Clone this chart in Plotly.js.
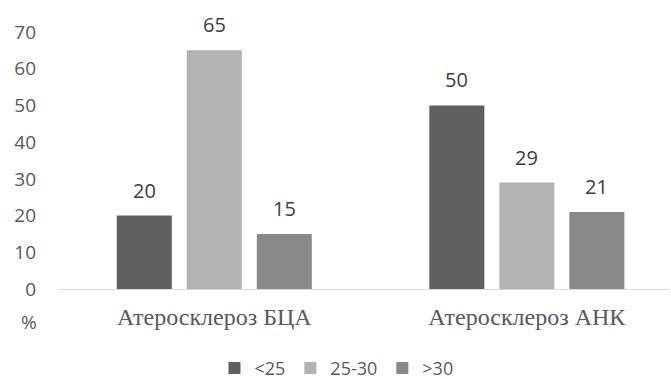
<!DOCTYPE html>
<html>
<head>
<meta charset="utf-8">
<script src="https://cdn.plot.ly/plotly-3.0.1.min.js"></script>
<style>html,body{margin:0;padding:0;background:#fff;}#chart{width:671px;height:379px;}</style>
</head>
<body>
<div id="chart"></div>
<script>
const categories = ["Атеросклероз БЦА", "Атеросклероз АНК"];
const seriesNames = ["<25", "25-30", ">30"];
const seriesLt25 = [20, 50];
const series25to30 = [65, 29];
const seriesGt30 = [15, 21];
const seriesValues = [seriesLt25, series25to30, seriesGt30];
const seriesColors = ["#5f5f5f", "#b3b3b3", "#898989"];
const yTicks = [0, 10, 20, 30, 40, 50, 60, 70];

const traces = seriesValues.map((vals, i) => ({
  type: "bar",
  name: seriesNames[i],
  x: categories,
  y: vals,
  marker: {color: seriesColors[i]},
  hoverinfo: "none"
}));

const slotPx = 70;
const annotations = [];
seriesValues.forEach((vals, i) => {
  vals.forEach((v, j) => {
    annotations.push({
      x: categories[j], y: v, xref: "x", yref: "y",
      text: String(v), showarrow: false,
      yanchor: "bottom", yshift: 10, xshift: (i - 1) * slotPx,
      font: {family: "Open Sans", size: 20, color: "#404040"}
    });
  });
});
annotations.push({
  xref: "paper", yref: "paper", x: -0.047, y: -0.128, xanchor: "center", yanchor: "middle",
  text: "%", showarrow: false,
  font: {family: "Open Sans", size: 19, color: "#595959"}
});

const layout = {
  width: 671, height: 379,
  margin: {l: 58, r: 1, t: 32, b: 90},
  paper_bgcolor: "#ffffff", plot_bgcolor: "#ffffff",
  barmode: "group", bargap: 0.328, bargroupgap: 0.214,
  showlegend: true,
  legend: {orientation: "h", x: 0.455, xanchor: "center", yref: "container", y: 0.028, yanchor: "middle",
    font: {family: "Open Sans", size: 18, color: "#595959"}, itemwidth: 30},
  xaxis: {
    type: "category", range: [-0.5, 1.458],
    showline: true, linecolor: "#d9d9d9", linewidth: 1,
    showgrid: false, zeroline: false, ticks: "",
    tickfont: {family: "Liberation Serif", size: 24, color: "#595959"},
    ticklabelstandoff: 6
  },
  yaxis: {
    range: [0, 70], tickvals: yTicks, ticktext: yTicks.map(String),
    showgrid: false, zeroline: false, showline: false, ticks: "",
    tickfont: {family: "Open Sans", size: 19, color: "#595959"},
    ticklabelstandoff: 21
  },
  annotations: annotations,
  hovermode: false
};

Plotly.newPlot("chart", traces, layout, {displayModeBar: false, staticPlot: true});
</script>
</body>
</html>
